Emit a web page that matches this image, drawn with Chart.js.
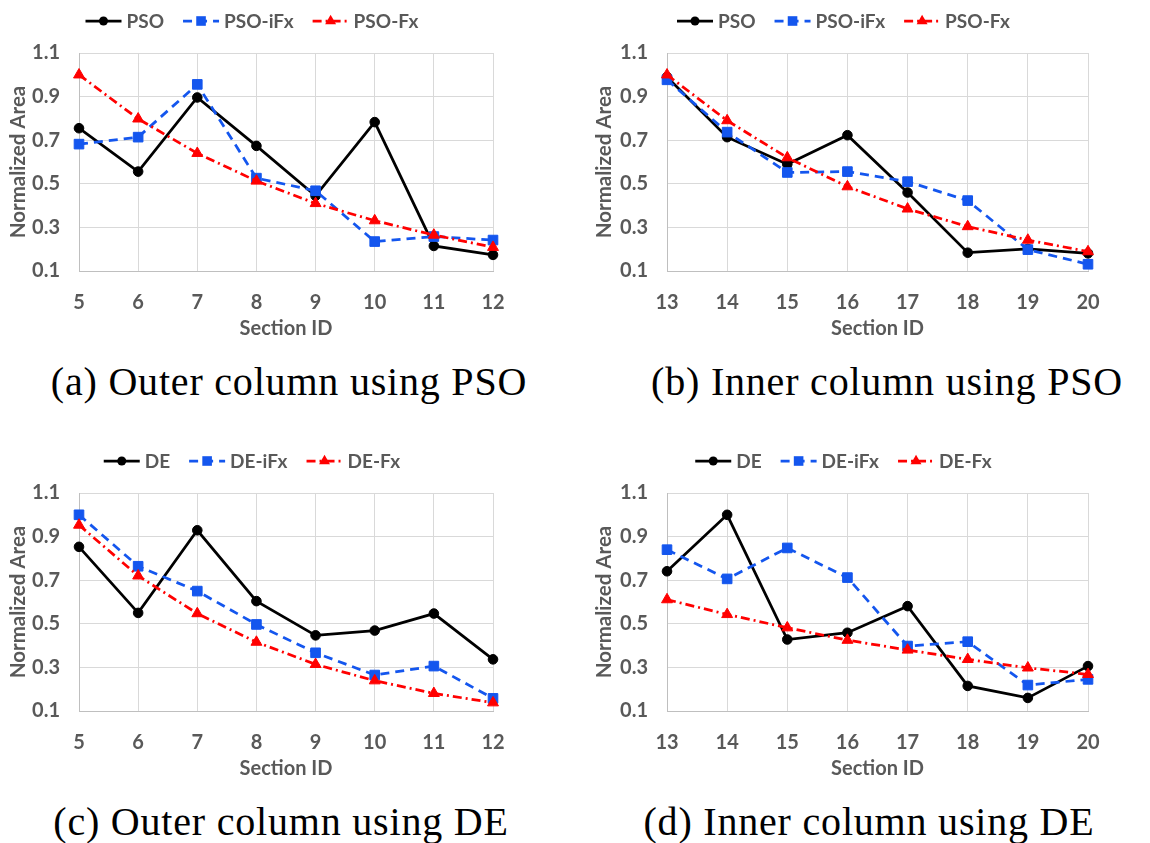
<!DOCTYPE html>
<html>
<head>
<meta charset="utf-8">
<script src="https://cdn.jsdelivr.net/npm/chart.js@4/dist/chart.umd.min.js"></script>
<style>
body { margin: 0; background: #fff; width: 1150px; height: 843px; position: relative; overflow: hidden; }
canvas { position: absolute; }
.cap {
    position: absolute; white-space: nowrap; transform: translateX(-50%);
    font-family: "Liberation Serif", serif; font-size: 40px; letter-spacing: 0.8px;
    line-height: 44px; color: #000;
}
</style>
</head>
<body>
<canvas id="ca" width="575" height="345" style="left:0;top:0"></canvas>
<canvas id="cb" width="575" height="345" style="left:575px;top:0"></canvas>
<canvas id="cc" width="575" height="345" style="left:0;top:440px"></canvas>
<canvas id="cd" width="575" height="345" style="left:575px;top:440px"></canvas>
<div class="cap" style="left:289px;top:360px">(a) Outer column using PSO</div>
<div class="cap" style="left:887px;top:360px">(b) Inner column using PSO</div>
<div class="cap" style="left:281px;top:800px">(c) Outer column using DE</div>
<div class="cap" style="left:869px;top:800px">(d) Inner column using DE</div>
<script>
// DATA
const outerIds = ['5', '6', '7', '8', '9', '10', '11', '12'];
const innerIds = ['13', '14', '15', '16', '17', '18', '19', '20'];
const yTicks = [0.1, 0.3, 0.5, 0.7, 0.9, 1.1];

const psoNames = ['PSO', 'PSO-iFx', 'PSO-Fx'];
const deNames = ['DE', 'DE-iFx', 'DE-Fx'];

const psoOuter    = [0.755, 0.556, 0.896, 0.674, 0.445, 0.783, 0.215, 0.174];
const psoIfxOuter = [0.682, 0.714, 0.956, 0.526, 0.468, 0.235, 0.258, 0.242];
const psoFxOuter  = [1.000, 0.798, 0.640, 0.513, 0.410, 0.331, 0.265, 0.209];

const psoInner    = [0.990, 0.714, 0.590, 0.723, 0.460, 0.184, 0.201, 0.181];
const psoIfxInner = [0.977, 0.737, 0.552, 0.556, 0.510, 0.423, 0.198, 0.131];
const psoFxInner  = [1.000, 0.790, 0.620, 0.487, 0.385, 0.304, 0.242, 0.189];

const deOuter     = [0.853, 0.550, 0.929, 0.604, 0.447, 0.469, 0.547, 0.337];
const deIfxOuter  = [1.000, 0.764, 0.650, 0.497, 0.367, 0.265, 0.306, 0.158];
const deFxOuter   = [0.953, 0.720, 0.547, 0.416, 0.314, 0.239, 0.181, 0.138];

const deInner     = [0.741, 1.000, 0.428, 0.459, 0.581, 0.215, 0.160, 0.306];
const deIfxInner  = [0.840, 0.706, 0.848, 0.712, 0.398, 0.418, 0.219, 0.245];
const deFxInner   = [0.611, 0.543, 0.482, 0.425, 0.380, 0.337, 0.298, 0.268];

// STYLE
const TEXT = '#595959';
const FONT = 'Lato, "Open Sans", sans-serif';
const SERIES_STYLE = [
    { color: '#000000', dash: [], point: 'circle', radius: 4.8, order: 3 },
    { color: '#1456ee', dash: [9, 6], point: 'rect', radius: 6.8, order: 2 },
    { color: '#ff0000', dash: [9, 4, 2, 4], point: 'triangle', radius: 6.3, order: 1 }
];

function drawMarker(ctx, style, x, y) {
    ctx.beginPath();
    if (style === 'circle') {
        ctx.arc(x, y, 4.5, 0, Math.PI * 2);
    } else if (style === 'rect') {
        ctx.rect(x - 4.8, y - 4.8, 9.6, 9.6);
    } else {
        const r = 6.3;
        ctx.moveTo(x, y - r);
        ctx.lineTo(x + r * 0.866, y + r / 2);
        ctx.lineTo(x - r * 0.866, y + r / 2);
        ctx.closePath();
    }
    ctx.fill();
}

// custom legend: line + marker + label, like the office-style legend
const lineLegend = {
    id: 'lineLegend',
    afterDraw(chart, args, opts) {
        const ctx = chart.ctx;
        ctx.save();
        ctx.font = 'bold 19px ' + FONT;
        const lineLen = 36, gapText = 5, gapItem = 19;
        const items = chart.data.datasets.map((ds, i) => ({ ds, st: SERIES_STYLE[i], tw: ctx.measureText(ds.label).width }));
        const total = items.reduce((s, it) => s + lineLen + gapText + it.tw, 0) + gapItem * (items.length - 1);
        const area = chart.chartArea;
        let x = (area.left + area.right) / 2 - 34 - total / 2;
        const y = opts.y;
        items.forEach(it => {
            ctx.strokeStyle = it.st.color;
            ctx.fillStyle = it.st.color;
            ctx.lineWidth = 2.75;
            ctx.setLineDash(it.st.dash);
            ctx.beginPath();
            ctx.moveTo(x, y);
            ctx.lineTo(x + lineLen, y);
            ctx.stroke();
            ctx.setLineDash([]);
            drawMarker(ctx, it.st.point, x + lineLen / 2, y);
            ctx.fillStyle = TEXT;
            ctx.textBaseline = 'middle';
            ctx.textAlign = 'left';
            ctx.fillText(it.ds.label, x + lineLen + gapText, y + 1);
            x += lineLen + gapText + it.tw + gapItem;
        });
        ctx.restore();
    }
};

function makePanel(canvasId, labels, series, names, yWidth, padRight, yTitlePad) {
    const datasets = series.map((vals, i) => {
        const st = SERIES_STYLE[i];
        return {
            label: names[i],
            data: vals,
            borderColor: st.color,
            backgroundColor: st.color,
            borderWidth: 2.75,
            borderDash: st.dash,
            pointStyle: st.point,
            pointRadius: st.radius,
            pointBackgroundColor: st.color,
            pointBorderColor: st.color,
            pointBorderWidth: 1,
            tension: 0,
            order: st.order,
            clip: false
        };
    });

    new Chart(document.getElementById(canvasId), {
        type: 'line',
        data: { labels, datasets },
        options: {
            responsive: false,
            animation: false,
            layout: { padding: { top: 53, right: padRight, bottom: 0, left: 0 } },
            plugins: {
                legend: { display: false },
                tooltip: { enabled: false },
                lineLegend: { y: 21 }
            },
            scales: {
                x: {
                    type: 'category',
                    offset: false,
                    afterFit: s => { s.height = 74; },
                    grid: { color: '#d9d9d9', lineWidth: 1, drawTicks: false },
                    border: { color: '#bfbfbf', width: 1 },
                    ticks: {
                        color: TEXT, padding: 20, autoSkip: false, maxRotation: 0,
                        font: { family: FONT, size: 20, weight: 'bold' }
                    },
                    title: {
                        display: true, text: 'Section ID', color: TEXT,
                        padding: { top: 0, bottom: 4 },
                        font: { family: FONT, size: 20, weight: 'bold' }
                    }
                },
                y: {
                    min: 0.1,
                    max: 1.1,
                    afterFit: s => { s.width = yWidth; },
                    afterBuildTicks: s => { s.ticks = yTicks.map(v => ({ value: v })); },
                    grid: { color: '#d9d9d9', lineWidth: 1, drawTicks: false },
                    border: { color: '#bfbfbf', width: 1 },
                    ticks: {
                        color: TEXT, padding: 19,
                        callback: v => Number(v).toFixed(1),
                        font: { family: FONT, size: 20, weight: 'bold' }
                    },
                    title: {
                        display: true, text: 'Normalized Area', color: TEXT,
                        padding: { top: yTitlePad, bottom: 0 },
                        font: { family: FONT, size: 20.5, weight: 'bold' }
                    }
                }
            }
        },
        plugins: [lineLegend]
    });
}

makePanel('ca', outerIds, [psoOuter, psoIfxOuter, psoFxOuter], psoNames, 79, 82, 6);
makePanel('cb', innerIds, [psoInner, psoIfxInner, psoFxInner], psoNames, 92, 62, 17);
makePanel('cc', outerIds, [deOuter, deIfxOuter, deFxOuter], deNames, 79, 82, 6);
makePanel('cd', innerIds, [deInner, deIfxInner, deFxInner], deNames, 92, 62, 17);
</script>
</body>
</html>
